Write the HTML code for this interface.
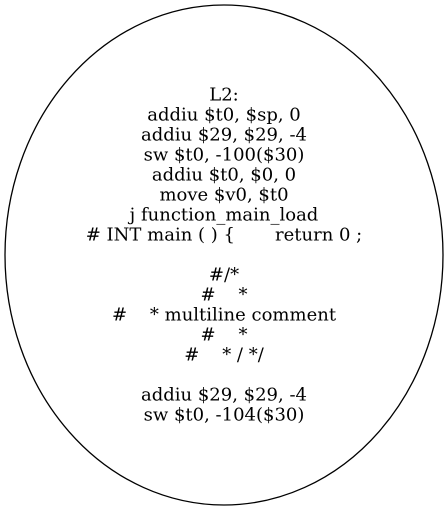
<!DOCTYPE html>
<html><head><style>html,body{margin:0;padding:0;background:#fff} text{white-space:pre}</style></head>
<body>
<svg width="448" height="510" viewBox="0 0 448 510" xmlns="http://www.w3.org/2000/svg">
<ellipse cx="224" cy="255" rx="219" ry="250" fill="none" stroke="#000" stroke-width="1.3"/>
<g font-family="DejaVu Serif, serif" font-size="18" text-anchor="middle" fill="#000" xml:space="preserve">
<text x="224" y="100.5">L2:</text>
<text x="224" y="120.5">addiu $t0, $sp, 0</text>
<text x="224" y="140.5">addiu $29, $29, -4</text>
<text x="224" y="160.5">sw $t0, -100($30)</text>
<text x="224" y="180.5">addiu $t0, $0, 0</text>
<text x="224" y="200.5">move $v0, $t0</text>
<text x="224" y="220.5">j function_main_load</text>
<text x="224" y="240.5"># INT main ( ) {       return 0 ;</text>
<text x="224" y="280.5">#/*</text>
<text x="224" y="300.5">#    *</text>
<text x="224" y="320.5">#    * multiline comment</text>
<text x="224" y="340.5">#    *</text>
<text x="224" y="360.5">#    * / */</text>
<text x="224" y="400.5">addiu $29, $29, -4</text>
<text x="224" y="420.5">sw $t0, -104($30)</text>
</g>
</svg>
</body></html>
